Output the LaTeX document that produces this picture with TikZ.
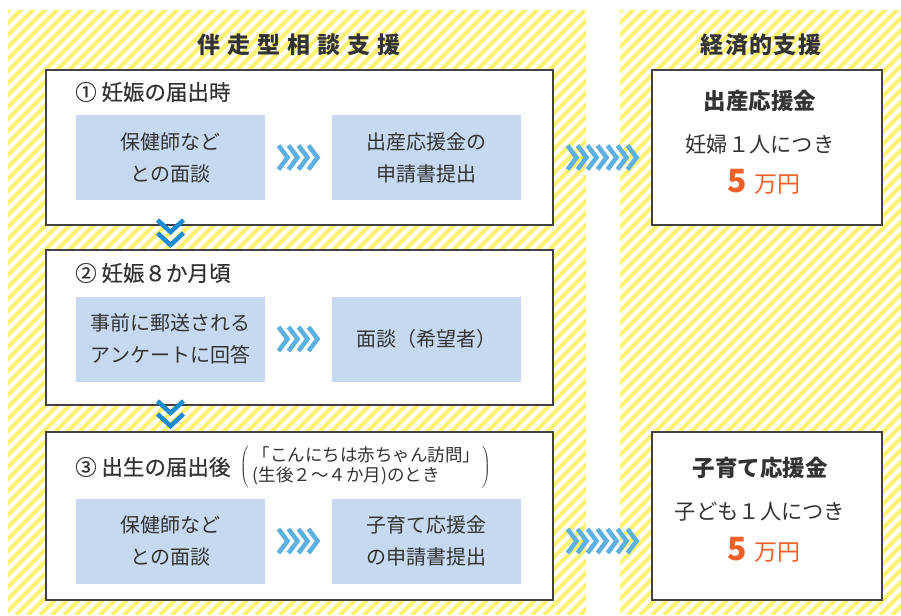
\documentclass[tikz,border=0pt]{standalone}
\usepackage{fontspec}
\setmainfont{Noto Sans CJK JP}
\usetikzlibrary{calc}
\usetikzlibrary{positioning}

\definecolor{stripe}{RGB}{255,242,112}
\definecolor{boxblue}{RGB}{198,217,240}
\definecolor{chevlight}{RGB}{92,176,226}
\definecolor{chevdark}{RGB}{26,140,212}
\definecolor{yen}{RGB}{240,96,40}
\definecolor{ink}{RGB}{51,51,51}
\definecolor{frame}{RGB}{66,66,66}

% row of right chevrons: centre, count, colour
\newcommand{\rchevs}[3]{%
  \foreach \k in {1,...,#2}
    \draw [#3, line width=4.5pt, miter limit=10]
      ($(#1)+({(\k-(#2+1)/2)*10-5},12)$) -- ++(9,-12) -- ++(-9,-12);
}
% two down chevrons: centre
\newcommand{\dchevs}[1]{%
  \foreach \k in {6.5,-6.5}
    \draw [chevdark, line width=4.5pt, miter limit=10]
      ($(#1)+(-13,\k+5)$) -- ++(13,-12) -- ++(13,12);
}

\begin{document}
\begin{tikzpicture}[x=1pt, y=1pt,
    stepbox/.style={draw=frame, line width=1.4pt, fill=white, minimum width=507pt, inner sep=0pt},
    bluebox/.style={fill=boxblue, minimum width=189pt, minimum height=85pt, align=center, text=ink,
      font=\fontsize{20}{32}\selectfont},
    title/.style={anchor=west, inner sep=0pt, text=ink,
      font=\fontsize{21.5}{24}\selectfont\addfontfeature{FakeBold=0.5}},
    head/.style={text=ink, inner sep=0pt, font=\fontsize{23}{24}\selectfont\bfseries},
    prize/.style={text=ink, inner sep=0pt, font=\fontsize{22.5}{24}\selectfont\bfseries},
    each/.style={text=ink, inner sep=0pt, font=\fontsize{21.3}{24}\selectfont},
    amount/.style={text=yen, inner sep=0pt, font=\fontsize{23}{24}\selectfont}]
    \useasboundingbox (0,0) rectangle (901,-615);

    % striped panels
    \begin{scope}
      \clip (8,-10) rectangle (586,-615) (620,-10) rectangle (901,-615);
      \foreach \s in {-620,-608,...,900}
        \draw [stripe, line width=4.2pt] (\s,-615) -- ++(620,620);
    \end{scope}

    \node [head] (lhead) at (299,-45) {\addfontfeature{LetterSpace=30}伴走型相談支援};
    \node [head] (rhead) at (761,-45) {\addfontfeature{LetterSpace=6}経済的支援};

    % steps
    \node [stepbox, minimum height=155pt] (s1) at (299.5,-147.5) {};
    \node [stepbox, minimum height=155pt] (s2) at (299.5,-327.5) {};
    \node [stepbox, minimum height=168pt] (s3) at (299.5,-516) {};

    \node [title] (t1) at (75,-92) {① 妊娠の届出時};
    \node [title] (t2) at (75,-273) {② 妊娠８か月頃};
    \node [title] (t3) at (75,-467) {③ 出生の届出後};
    \node [right=9pt of t3, inner sep=0pt, text=ink, font=\fontsize{17.5}{20}\selectfont] (t3note)
      {$\left(\begin{tabular}{@{\hspace{4pt}}l@{\hspace{2pt}}}「こんにちは赤ちゃん訪問」\\(生後２～４か月)のとき\end{tabular}\right)$};

    \node [bluebox] (b1a) at (170.5,-157.5) {保健師など\\との面談};
    \node [bluebox] (b1b) at (426.5,-157.5) {出産応援金の\\申請書提出};
    \node [bluebox] (b2a) at (170.5,-339) {事前に郵送される\\アンケートに回答};
    \node [bluebox] (b2b) at (426.5,-339) {面談（希望者）};
    \node [bluebox] (b3a) at (170.5,-541) {保健師など\\との面談};
    \node [bluebox] (b3b) at (426.5,-541) {子育て応援金\\の申請書提出};

    % payments
    \node [stepbox, minimum width=230pt, minimum height=155pt] (ra) at (767,-147.5) {};
    \node [stepbox, minimum width=230pt, minimum height=168pt] (rb) at (767,-516) {};

    \node [prize] (ra1) at (760,-100.5) {出産応援金};
    \node [each] (ra2) at (760,-144) {妊婦１人につき};
    \node [amount] (ra3) at (764,-182) {{\fontsize{32}{32}\selectfont\bfseries 5}\hspace{8pt}万円};

    \node [prize] (rb1) at (760,-468) {子育て応援金};
    \node [each] (rb2) at (760,-512) {子ども１人につき};
    \node [amount] (rb3) at (764,-550) {{\fontsize{32}{32}\selectfont\bfseries 5}\hspace{8pt}万円};

    % chevrons
    \coordinate (c1) at ($(b1a.east)!.5!(b1b.west)$);
    \coordinate (c2) at ($(b2a.east)!.5!(b2b.west)$);
    \coordinate (c3) at ($(b3a.east)!.5!(b3b.west)$);
    \rchevs{c1}{4}{chevlight}
    \rchevs{c2}{4}{chevlight}
    \rchevs{c3}{4}{chevlight}

    \coordinate (g1) at ($(s1.east |- b1b)!.5!(ra.west |- b1b)$);
    \coordinate (g3) at ($(s3.east |- b3b)!.5!(rb.west |- b3b)$);
    \rchevs{g1}{7}{chevlight}
    \rchevs{g3}{7}{chevlight}

    \coordinate (d1) at ($(s1.south -| b1a)!.5!(s2.north -| b1a)+(0,6)$);
    \coordinate (d2) at ($(s2.south -| b2a)!.5!(s3.north -| b2a)+(0,6)$);
    \dchevs{d1}
    \dchevs{d2}
  \end{tikzpicture}
\end{document}
